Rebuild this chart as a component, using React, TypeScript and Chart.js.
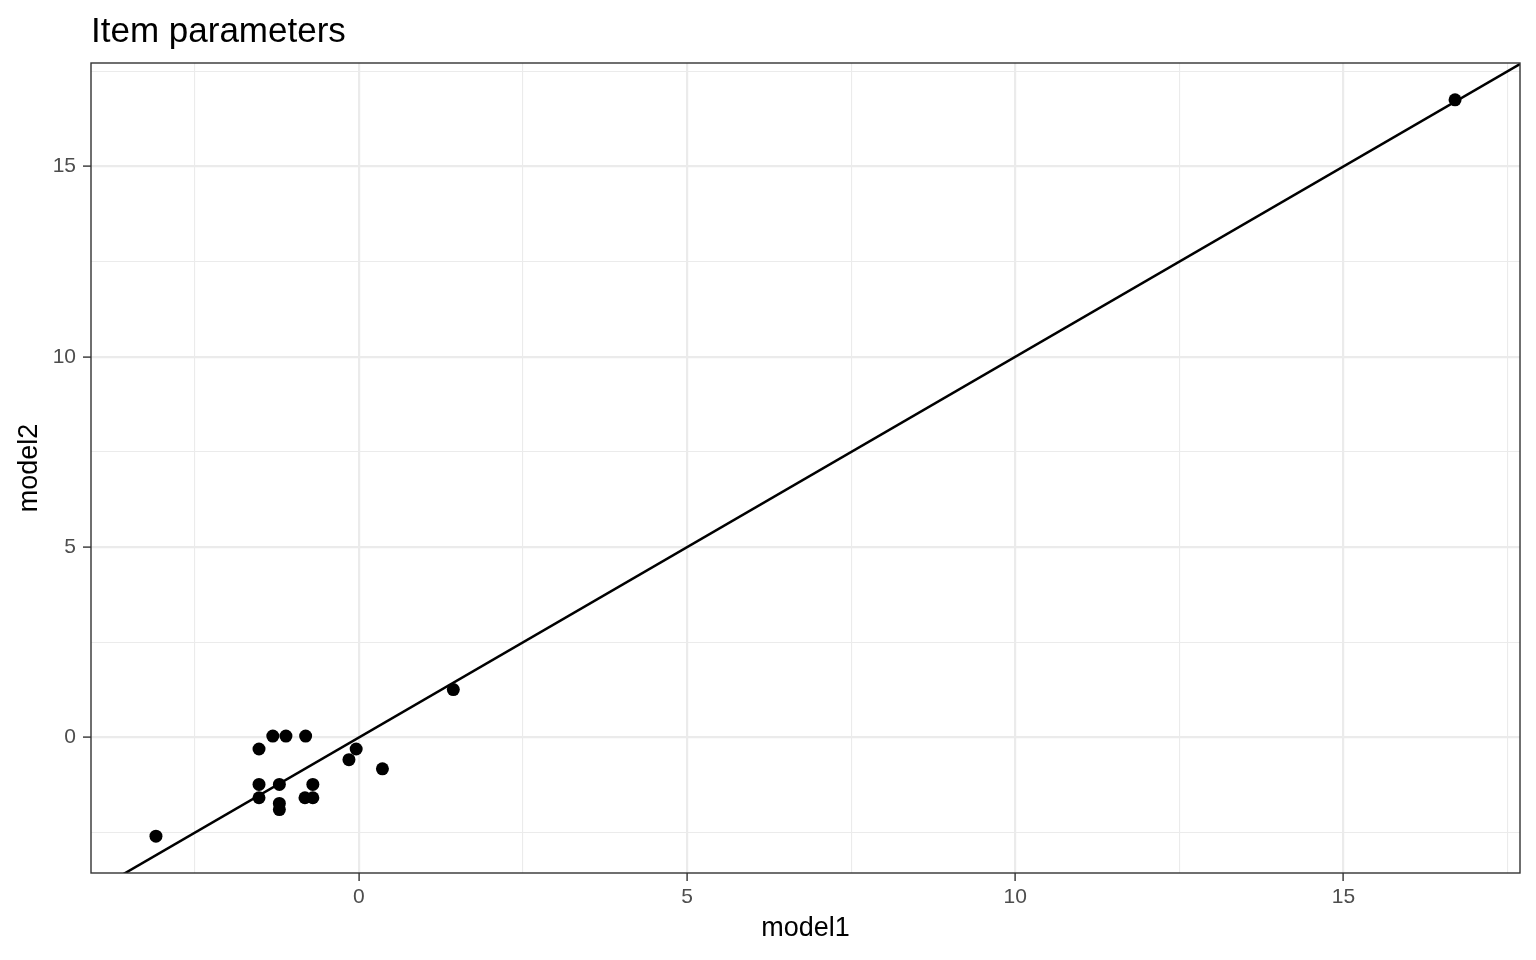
import { useEffect, useRef } from 'react';
import { Chart, registerables } from 'chart.js';

Chart.register(...registerables);

const TITLE = 'Item parameters';
const X_LABEL = 'model1';
const Y_LABEL = 'model2';

const MODEL1 = [-3.09, -1.52, -1.31, -1.11, -0.81, -0.04, -0.15, 0.36, 1.44, -1.52, -1.21, -0.7, -1.52, -1.21, -1.21, -0.82, -0.7, 16.7];
const MODEL2 = [-2.59, -0.3, 0.04, 0.04, 0.04, -0.3, -0.58, -0.82, 1.26, -1.23, -1.23, -1.23, -1.58, -1.73, -1.89, -1.58, -1.58, 16.75];

const X_GRID = [-2.5, 0, 2.5, 5, 7.5, 10, 12.5, 15, 17.5];
const Y_GRID = [-2.5, 0, 2.5, 5, 7.5, 10, 12.5, 15, 17.5];
const X_LABELED = [0, 5, 10, 15];
const Y_LABELED = [0, 5, 10, 15];

const ABLINE_INTERCEPT = 0;
const ABLINE_SLOPE = 1;

const FONT = '"Liberation Sans", Arial, Helvetica, sans-serif';

function expand(vals: number[]): [number, number] {
  const mn = Math.min(...vals);
  const mx = Math.max(...vals);
  const r = mx - mn;
  return [mn - 0.05 * r, mx + 0.05 * r];
}

export default function App() {
  const ref = useRef<HTMLCanvasElement | null>(null);

  useEffect(() => {
    document.body.style.margin = '0';
    const canvas = ref.current;
    if (!canvas) return;
    const [xMin, xMax] = expand(MODEL1);
    const [yMin, yMax] = expand(MODEL2);

    const overlay = {
      id: 'overlay',
      beforeDatasetsDraw(chart: any) {
        const { ctx, chartArea, scales } = chart;
        const xs = scales.x;
        const ys = scales.y;
        ctx.save();
        ctx.beginPath();
        ctx.rect(chartArea.left, chartArea.top, chartArea.right - chartArea.left, chartArea.bottom - chartArea.top);
        ctx.clip();
        ctx.strokeStyle = '#000000';
        ctx.lineWidth = 2.5;
        ctx.beginPath();
        ctx.moveTo(xs.getPixelForValue(xMin), ys.getPixelForValue(ABLINE_INTERCEPT + ABLINE_SLOPE * xMin));
        ctx.lineTo(xs.getPixelForValue(xMax), ys.getPixelForValue(ABLINE_INTERCEPT + ABLINE_SLOPE * xMax));
        ctx.stroke();
        ctx.restore();
      },
      afterDraw(chart: any) {
        const { ctx, chartArea } = chart;
        ctx.save();
        ctx.strokeStyle = '#333333';
        ctx.lineWidth = 1.4;
        ctx.strokeRect(chartArea.left, chartArea.top, chartArea.right - chartArea.left, chartArea.bottom - chartArea.top);
        ctx.fillStyle = '#000000';
        ctx.font = `35px ${FONT}`;
        ctx.textAlign = 'left';
        ctx.textBaseline = 'alphabetic';
        ctx.fillText(TITLE, chartArea.left, 42);
        ctx.font = `27px ${FONT}`;
        ctx.textAlign = 'center';
        ctx.textBaseline = 'middle';
        ctx.fillText(X_LABEL, (chartArea.left + chartArea.right) / 2, 929);
        ctx.translate(30, (chartArea.top + chartArea.bottom) / 2);
        ctx.rotate(-Math.PI / 2);
        ctx.fillText(Y_LABEL, 0, 0);
        ctx.restore();
      },
    };

    const isMajor = (v: number, list: number[]) => list.includes(v);

    const chart = new Chart(canvas, {
      type: 'scatter',
      data: {
        datasets: [
          {
            data: MODEL1.map((x, i) => ({ x, y: MODEL2[i] })),
            backgroundColor: '#000000',
            borderColor: '#000000',
            pointRadius: 6.5,
            pointBorderWidth: 0,
          },
        ],
      },
      options: {
        animation: false,
        responsive: false,
        devicePixelRatio: 1,
        layout: { padding: { top: 63, right: 16, left: 0, bottom: 0 } },
        plugins: { legend: { display: false }, tooltip: { enabled: false }, title: { display: false } },
        scales: {
          x: {
            type: 'linear',
            min: xMin,
            max: xMax,
            afterBuildTicks: (s: any) => {
              s.ticks = X_GRID.map((v) => ({ value: v }));
            },
            afterFit: (s: any) => {
              s.height = 87;
            },
            border: { display: false },
            grid: {
              color: '#EBEBEB',
              lineWidth: (c: any) => (isMajor(c.tick?.value, X_LABELED) ? 2.2 : 1.1),
              tickColor: (c: any) => (isMajor(c.tick?.value, X_LABELED) ? '#333333' : 'rgba(0,0,0,0)'),
              tickWidth: 1.4,
              tickLength: 8,
            },
            ticks: {
              autoSkip: false,
              maxRotation: 0,
              padding: 4,
              color: '#4D4D4D',
              font: { family: FONT, size: 21 },
              callback: (v: any) => (X_LABELED.includes(Number(v)) ? String(v) : ''),
            },
          },
          y: {
            type: 'linear',
            min: yMin,
            max: yMax,
            afterBuildTicks: (s: any) => {
              s.ticks = Y_GRID.map((v) => ({ value: v }));
            },
            afterFit: (s: any) => {
              s.width = 91;
            },
            border: { display: false },
            grid: {
              color: '#EBEBEB',
              lineWidth: (c: any) => (isMajor(c.tick?.value, Y_LABELED) ? 2.2 : 1.1),
              tickColor: (c: any) => (isMajor(c.tick?.value, Y_LABELED) ? '#333333' : 'rgba(0,0,0,0)'),
              tickWidth: 1.4,
              tickLength: 8,
            },
            ticks: {
              autoSkip: false,
              padding: 7,
              color: '#4D4D4D',
              font: { family: FONT, size: 21 },
              callback: (v: any) => (Y_LABELED.includes(Number(v)) ? String(v) : ''),
            },
          },
        },
      },
      plugins: [overlay],
    });
    return () => chart.destroy();
  }, []);

  return (
    <div style={{ position: 'absolute', left: 0, top: 0, width: 1536, height: 960, background: '#fff' }}>
      <canvas ref={ref} width={1536} height={960} style={{ width: 1536, height: 960, display: 'block' }} />
    </div>
  );
}
